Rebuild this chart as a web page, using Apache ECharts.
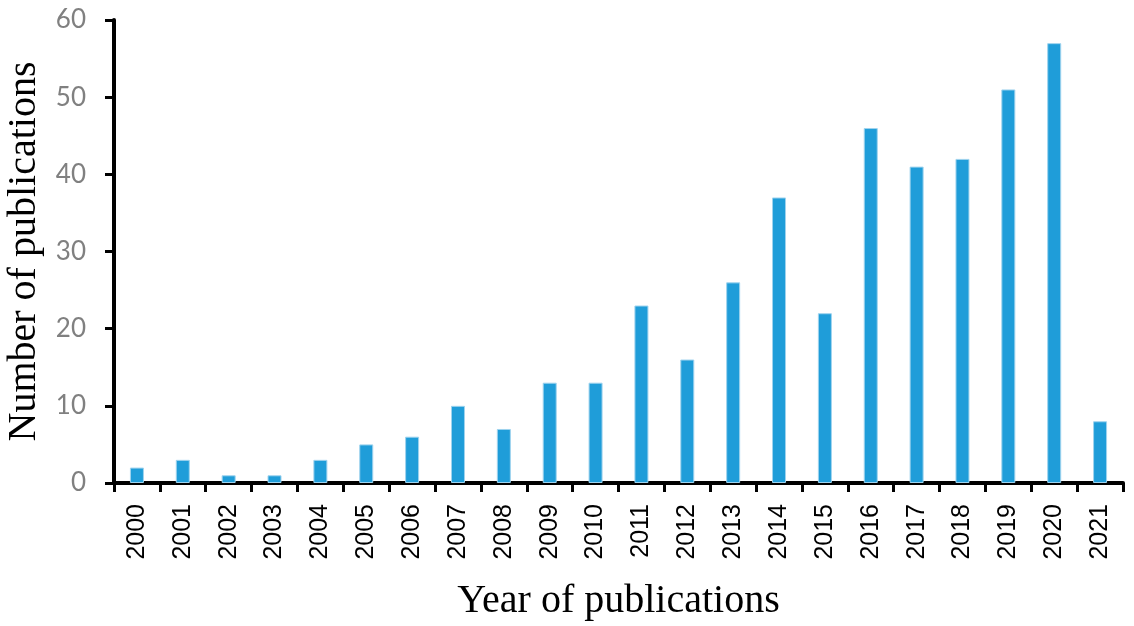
<!DOCTYPE html>
<html>
<head>
<meta charset="utf-8">
<script src="https://cdn.jsdelivr.net/npm/echarts@6/dist/echarts.min.js"></script>
<style>html,body{margin:0;padding:0;background:#fff;}#c{width:1134px;height:626px;}</style>
</head>
<body>
<div id="c"></div>
<script>
const years = ['2000','2001','2002','2003','2004','2005','2006','2007','2008','2009','2010','2011','2012','2013','2014','2015','2016','2017','2018','2019','2020','2021'];
const publications = [2,3,1,1,3,5,6,10,7,13,13,23,16,26,37,22,46,41,42,51,57,8];
const yTicks = {min:0, max:60, interval:10};

const chart = echarts.init(document.getElementById('c'), null, {renderer:'canvas'});
chart.setOption({
  animation:false,
  backgroundColor:'#fff',
  grid:{left:114, right:11, top:20, bottom:143, containLabel:false, outerBoundsMode:'none'},
  xAxis:{
    type:'category',
    data:years,
    name:'Year of publications',
    nameLocation:'middle',
    nameGap:98,
    nameTextStyle:{fontFamily:'Liberation Serif', fontSize:40, color:'#000'},
    axisLine:{lineStyle:{color:'#000', width:4}},
    axisTick:{show:true, length:9, lineStyle:{color:'#000', width:3}},
    axisLabel:{rotate:90, margin:21, fontFamily:'Liberation Sans', fontSize:25, color:'#000', hideOverlap:false, interval:0}
  },
  yAxis:{
    type:'value',
    min:yTicks.min, max:yTicks.max, interval:yTicks.interval,
    name:'Number of publications',
    nameLocation:'middle',
    nameGap:66,
    nameTextStyle:{fontFamily:'Liberation Serif', fontSize:40, color:'#000'},
    axisLine:{show:true, lineStyle:{color:'#000', width:4}},
    axisTick:{show:true, length:9, lineStyle:{color:'#000', width:3}},
    splitLine:{show:false},
    axisLabel:{margin:28, fontFamily:'Lato', fontSize:26, color:'#808080'}
  },
  series:[{
    type:'bar',
    data:publications,
    barWidth:14,
    itemStyle:{color:'#1f9dd9', borderColor:'#9fd3ee', borderWidth:1}
  }]
});
</script>
</body>
</html>
